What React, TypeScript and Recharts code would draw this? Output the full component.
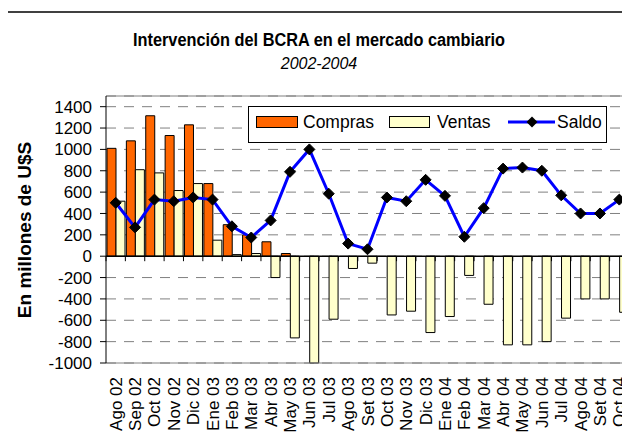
import React from 'react';
import {
  ComposedChart,
  Bar,
  Line,
  XAxis,
  YAxis,
  CartesianGrid,
  ReferenceLine,
} from 'recharts';

const months = [
  'Ago 02', 'Sep 02', 'Oct 02', 'Nov 02', 'Dic 02',
  'Ene 03', 'Feb 03', 'Mar 03', 'Abr 03', 'May 03', 'Jun 03', 'Jul 03',
  'Ago 03', 'Set 03', 'Oct 03', 'Nov 03', 'Dic 03',
  'Ene 04', 'Feb 04', 'Mar 04', 'Abr 04', 'May 04', 'Jun 04', 'Jul 04',
  'Ago 04', 'Set 04', 'Oct 04',
];

const compras = [
  1010, 1080, 1315, 1130, 1230, 680, 295, 200, 135, 25,
  null, null, null, null, null, null, null, null, null, null,
  null, null, null, null, null, null, null,
];

const ventas = [
  515, 810, 780, 615, 680, 150, 15, 25, -200, -765,
  -1000, -590, -115, -65, -550, -515, -715, -565, -180, -450,
  -830, -830, -800, -580, -400, -400, -525,
];

const saldo = [
  500, 270, 530, 515, 550, 530, 280, 175, 335, 790,
  1000, 585, 118, 65, 550, 515, 715, 565, 182, 450,
  820, 830, 800, 570, 400, 400, 530,
];

const yTicks = [-1000, -800, -600, -400, -200, 0, 200, 400, 600, 800, 1000, 1200, 1400];

const data = months.map((m, i) => ({
  month: m,
  compras: compras[i],
  ventas: ventas[i],
  saldo: saldo[i],
}));

const FONT = "'Liberation Sans', Arial, Helvetica, sans-serif";

const MonthTick = (props: any) => {
  const { x, y, payload } = props;
  return (
    <text
      transform={`translate(${x + 6},${y + 14}) rotate(-90)`}
      textAnchor="end"
      fontSize={17}
      fill="#000"
    >
      {payload.value}
    </text>
  );
};

const Diamond = (props: any) => {
  const { cx, cy, index } = props;
  if (cx == null || cy == null) return null;
  const r = 5.5;
  return (
    <polygon
      key={`d-${index}`}
      points={`${cx},${cy - r} ${cx + r},${cy} ${cx},${cy + r} ${cx - r},${cy}`}
      fill="#000"
      stroke="#000"
    />
  );
};

// zero line acts as category axis, with tick marks at category boundaries
const ZeroAxis = (props: any) => {
  const { x1, y1, x2 } = props;
  if (x1 == null) return null;
  const step = (x2 - x1) / months.length;
  return (
    <g>
      <line x1={x1} y1={y1} x2={x2} y2={y1} stroke="#000" strokeWidth={1.5} />
      {months.map((_, i) => (
        <line key={i} x1={x1 + step * i} y1={y1} x2={x1 + step * i} y2={y1 + 5} stroke="#000" />
      ))}
    </g>
  );
};

const App: React.FC = () => {
  return (
    <div
      style={{
        position: 'relative',
        width: 630,
        height: 444,
        margin: '-8px 0 -8px -8px',
        overflow: 'hidden',
        background: '#fff',
        fontFamily: FONT,
      }}
    >
      <div style={{ position: 'absolute', left: 0, top: 0 }}>
        <ComposedChart
          width={660}
          height={460}
          data={data}
          margin={{ top: 96, right: 31, left: 0, bottom: 37 }}
          barCategoryGap={1}
          barGap={0}
        >
          <CartesianGrid vertical={false} stroke="#808080" strokeDasharray="10 8" />
          <XAxis
            dataKey="month"
            interval={0}
            height={60}
            axisLine={false}
            tickLine={false}
            tickSize={0}
            tickMargin={0}
            tick={<MonthTick />}
          />
          <YAxis
            width={106}
            domain={[-1000, 1500]}
            ticks={yTicks}
            interval={0}
            stroke="#000"
            tickSize={6}
            tickMargin={8}
            tick={{ fontSize: 17, fill: '#000' }}
          />
          <ReferenceLine y={1500} stroke="#808080" />
          <ReferenceLine y={-1000} stroke="#808080" />
          <Bar dataKey="compras" name="Compras" fill="#FF6600" stroke="#000" strokeWidth={1} isAnimationActive={false} />
          <Bar dataKey="ventas" name="Ventas" fill="#FFFFCC" stroke="#000" strokeWidth={1} isAnimationActive={false} />
          <ReferenceLine y={0} shape={<ZeroAxis />} />
          <Line
            type="linear"
            dataKey="saldo"
            name="Saldo"
            stroke="#0000FF"
            strokeWidth={3}
            dot={<Diamond />}
            activeDot={false}
            isAnimationActive={false}
          />
        </ComposedChart>
      </div>
      <svg
        width={630}
        height={444}
        style={{ position: 'absolute', left: 0, top: 0, pointerEvents: 'none' }}
        fontFamily={FONT}
      >
        <rect x={7} y={12} width={700} height={500} fill="none" stroke="#404040" strokeWidth={2} />
        <text
          x={319}
          y={46}
          textAnchor="middle"
          fontSize={18}
          fontWeight="bold"
          fill="#000"
          textLength={372}
          lengthAdjust="spacingAndGlyphs"
        >
          Intervención del BCRA en el mercado cambiario
        </text>
        <text x={319} y={69} textAnchor="middle" fontSize={16} fontStyle="italic" fill="#000">
          2002-2004
        </text>
        <text
          transform="translate(31,230) rotate(-90)"
          textAnchor="middle"
          fontSize={19}
          fontWeight="bold"
          fill="#000"
        >
          En millones de U$S
        </text>
        <g transform="translate(248,106)">
          <rect x={0.5} y={0.5} width={358} height={36} fill="#fff" stroke="#000" />
          <rect x={8.5} y={10.5} width={41} height={11} fill="#FF6600" stroke="#000" />
          <text x={55} y={22} fontSize={17.5} fill="#000">Compras</text>
          <rect x={141.5} y={10.5} width={40} height={11} fill="#FFFFCC" stroke="#000" />
          <text x={189} y={22} fontSize={17.5} fill="#000">Ventas</text>
          <line x1={260} y1={16} x2={307} y2={16} stroke="#0000FF" strokeWidth={3} />
          <polygon points="284,10.5 289.5,16 284,21.5 278.5,16" fill="#000" />
          <text x={309} y={22} fontSize={17.5} fill="#000">Saldo</text>
        </g>
      </svg>
    </div>
  );
};

export default App;
